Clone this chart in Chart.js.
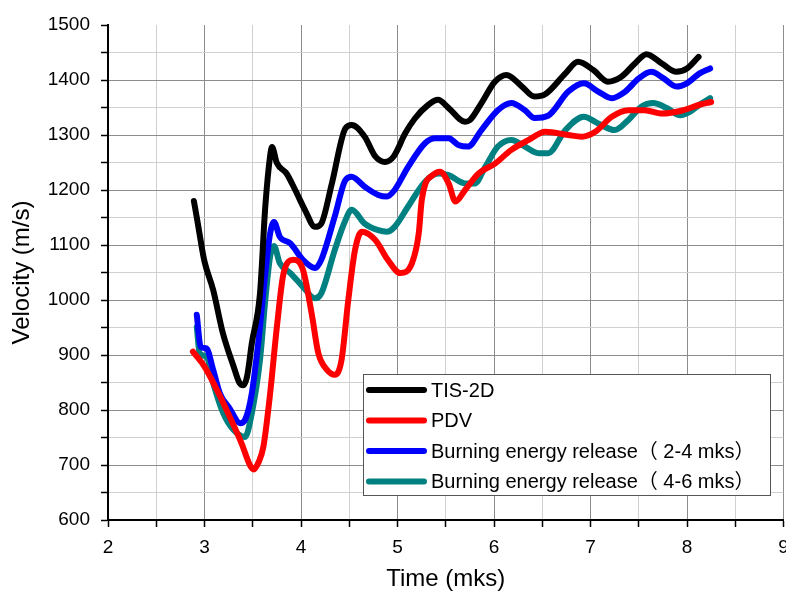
<!DOCTYPE html>
<html>
<head>
<meta charset="utf-8">
<script src="https://cdn.jsdelivr.net/npm/chart.js@4"></script>
<style>
  html, body { margin: 0; padding: 0; background: #fff; overflow: hidden; }
  #wrap { position: absolute; left: 0; top: 0; width: 800px; height: 594px; }
</style>
</head>
<body>
<div id="wrap"><canvas id="velocity" width="800" height="594"></canvas></div>
<script>
// series data (time in mks, velocity in m/s)
const tisTime = [2.89, 2.93, 2.96, 3.00, 3.09, 3.19, 3.30, 3.36, 3.40, 3.44, 3.49, 3.575, 3.63, 3.68, 3.70, 3.75, 3.85, 3.94, 4.04, 4.145, 4.21, 4.32, 4.46, 4.525, 4.66, 4.77, 4.87, 4.96, 5.08, 5.18, 5.32, 5.42, 5.53, 5.70, 5.75, 5.87, 6.01, 6.13, 6.29, 6.42, 6.53, 6.74, 6.87, 7.03, 7.18, 7.32, 7.46, 7.58, 7.74, 7.89, 8.00, 8.12];
const tisVel = [1180, 1140, 1108, 1070, 1018, 940, 880, 850, 845, 860, 921, 1012, 1170, 1262, 1278, 1249, 1230, 1200, 1164, 1133, 1139, 1212, 1312, 1318, 1297, 1261, 1251, 1261, 1303, 1330, 1355, 1364, 1349, 1324, 1327, 1358, 1397, 1409, 1388, 1370, 1374, 1412, 1433, 1418, 1397, 1406, 1430, 1447, 1430, 1415, 1421, 1442];

const pdvTime = [2.88, 3.00, 3.13, 3.26, 3.385, 3.47, 3.51, 3.56, 3.61, 3.68, 3.75, 3.82, 3.92, 4.02, 4.11, 4.18, 4.27, 4.35, 4.42, 4.49, 4.56, 4.63, 4.77, 4.90, 5.03, 5.15, 5.22, 5.25, 5.29, 5.35, 5.44, 5.53, 5.60, 5.70, 5.84, 6.01, 6.18, 6.36, 6.53, 6.77, 6.91, 7.05, 7.22, 7.39, 7.56, 7.74, 7.96, 8.13, 8.25];
const pdvVel = [906, 879, 836, 788, 739, 700, 692, 705, 733, 830, 951, 1049, 1073, 1055, 976, 903, 873, 864, 891, 1000, 1091, 1124, 1109, 1073, 1049, 1067, 1121, 1180, 1212, 1225, 1233, 1212, 1179, 1200, 1230, 1248, 1273, 1291, 1306, 1300, 1297, 1306, 1333, 1345, 1345, 1339, 1345, 1355, 1360];

const ber24Time = [2.92, 2.96, 3.02, 3.09, 3.16, 3.26, 3.37, 3.42, 3.49, 3.56, 3.63, 3.68, 3.72, 3.78, 3.89, 4.02, 4.145, 4.21, 4.35, 4.46, 4.525, 4.66, 4.80, 4.89, 4.97, 5.11, 5.285, 5.39, 5.53, 5.63, 5.73, 5.87, 6.04, 6.18, 6.32, 6.42, 6.56, 6.77, 6.93, 7.08, 7.22, 7.36, 7.50, 7.63, 7.75, 7.89, 8.00, 8.13, 8.24];
const ber24Vel = [973, 915, 912, 873, 830, 803, 776, 782, 830, 927, 1049, 1121, 1142, 1115, 1103, 1073, 1058, 1073, 1152, 1218, 1224, 1206, 1191, 1188, 1200, 1242, 1285, 1294, 1294, 1282, 1279, 1309, 1345, 1358, 1345, 1331, 1335, 1379, 1394, 1379, 1367, 1379, 1403, 1415, 1404, 1388, 1394, 1412, 1421];

const ber46Time = [2.92, 2.95, 3.02, 3.09, 3.195, 3.30, 3.42, 3.49, 3.575, 3.63, 3.68, 3.72, 3.78, 3.89, 4.02, 4.145, 4.21, 4.35, 4.46, 4.525, 4.66, 4.80, 4.89, 4.97, 5.11, 5.285, 5.42, 5.53, 5.70, 5.80, 5.91, 6.04, 6.18, 6.32, 6.46, 6.56, 6.74, 6.93, 7.08, 7.25, 7.39, 7.53, 7.65, 7.79, 7.93, 8.03, 8.13, 8.24];
const ber46Vel = [951, 903, 897, 849, 794, 764, 751, 794, 891, 1000, 1079, 1098, 1067, 1049, 1024, 1003, 1012, 1091, 1145, 1164, 1139, 1127, 1124, 1133, 1170, 1215, 1230, 1227, 1212, 1212, 1242, 1279, 1291, 1279, 1267, 1267, 1309, 1333, 1321, 1309, 1327, 1352, 1358, 1349, 1336, 1342, 1355, 1367];

const seriesNames = ['TIS-2D', 'PDV', 'Burning energy release（ 2-4 mks）', 'Burning energy release（ 4-6 mks）'];
const seriesColors = ['#000000', '#ff0000', '#0000ff', '#008080'];

const FONT = "'Liberation Sans', Arial, 'Noto Sans CJK SC', sans-serif";

function pts(xs, ys) {
	return xs.map((x, i) => ({ x: x, y: ys[i] }));
}

const allSeries = [pts(tisTime, tisVel), pts(pdvTime, pdvVel), pts(ber24Time, ber24Vel), pts(ber46Time, ber46Vel)];

// legend box drawn inside the plot, like the original
const boxLegend = {
	id: 'boxLegend',
	afterDraw(chart) {
		const ctx = chart.ctx;
		ctx.save();
		ctx.fillStyle = '#fff';
		ctx.fillRect(363, 374, 407, 121);
		ctx.strokeStyle = '#555';
		ctx.lineWidth = 1;
		ctx.strokeRect(363.5, 374.5, 407, 121);
		ctx.font = '20px ' + FONT;
		ctx.textBaseline = 'middle';
		ctx.lineCap = 'round';
		seriesNames.forEach((name, i) => {
			const y = 390 + i * 30.5;
			ctx.strokeStyle = seriesColors[i];
			ctx.lineWidth = 6;
			ctx.beginPath();
			ctx.moveTo(369, y);
			ctx.lineTo(424, y);
			ctx.stroke();
			ctx.fillStyle = '#000';
			ctx.fillText(name, 431, y + 1);
		});
		ctx.restore();
	}
};

// major gridlines solid gray, minor ones faint and dotted
const majorX = v => Number.isInteger(v);
const majorY = v => v % 100 === 0;

const ctx = document.getElementById('velocity').getContext('2d');
const myChart = new Chart(ctx, {
	type: 'line',
	data: {
		datasets: allSeries.map((d, i) => ({
			label: seriesNames[i],
			data: d,
			borderColor: seriesColors[i],
			backgroundColor: seriesColors[i],
			borderWidth: 6,
			pointRadius: 0,
			cubicInterpolationMode: 'monotone',
			borderCapStyle: 'round',
			borderJoinStyle: 'round',
			fill: false
		}))
	},
	options: {
		responsive: false,
		animation: false,
		devicePixelRatio: 1,
		layout: { padding: { left: 0, right: 16.5, top: 25, bottom: 0 } },
		plugins: {
			legend: { display: false },
			tooltip: { enabled: false }
		},
		scales: {
			x: {
				type: 'linear',
				min: 2,
				max: 9,
				afterFit: s => { s.height = 74; },
				ticks: {
					stepSize: 0.5,
					autoSkip: false,
					maxRotation: 0,
					padding: 9,
					color: '#000',
					font: { family: FONT, size: 19 },
					callback: v => majorX(v) ? String(v) : ''
				},
				grid: {
					color: c => majorX(c.tick.value) ? '#8c8c8c' : '#d0d0d0',
					borderDash: c => majorX(c.tick.value) ? [] : [1, 2],
					lineWidth: 1,
					tickLength: 7,
					tickColor: '#000',
					tickWidth: 1.5
				},
				border: { color: '#000', width: 2 },
				title: {
					display: true,
					text: 'Time (mks)',
					color: '#000',
					font: { family: FONT, size: 24 },
					padding: { top: 0, bottom: 0 }
				}
			},
			y: {
				min: 600,
				max: 1500,
				afterFit: s => { s.width = 108; },
				ticks: {
					stepSize: 50,
					autoSkip: false,
					padding: 11,
					color: '#000',
					font: { family: FONT, size: 19 },
					callback: v => majorY(v) ? String(v) : ''
				},
				grid: {
					color: c => c.tick.value === 1500 ? 'rgba(0,0,0,0)' : (majorY(c.tick.value) ? '#8c8c8c' : '#d0d0d0'),
					borderDash: c => majorY(c.tick.value) ? [] : [1, 2],
					lineWidth: 1,
					tickLength: 7,
					tickColor: '#000',
					tickWidth: 1.5
				},
				border: { color: '#000', width: 2 },
				title: {
					display: true,
					text: 'Velocity (m/s)',
					color: '#000',
					font: { family: FONT, size: 24 },
					padding: { top: 8, bottom: 0 }
				}
			}
		}
	},
	plugins: [boxLegend]
});
</script>
</body>
</html>
